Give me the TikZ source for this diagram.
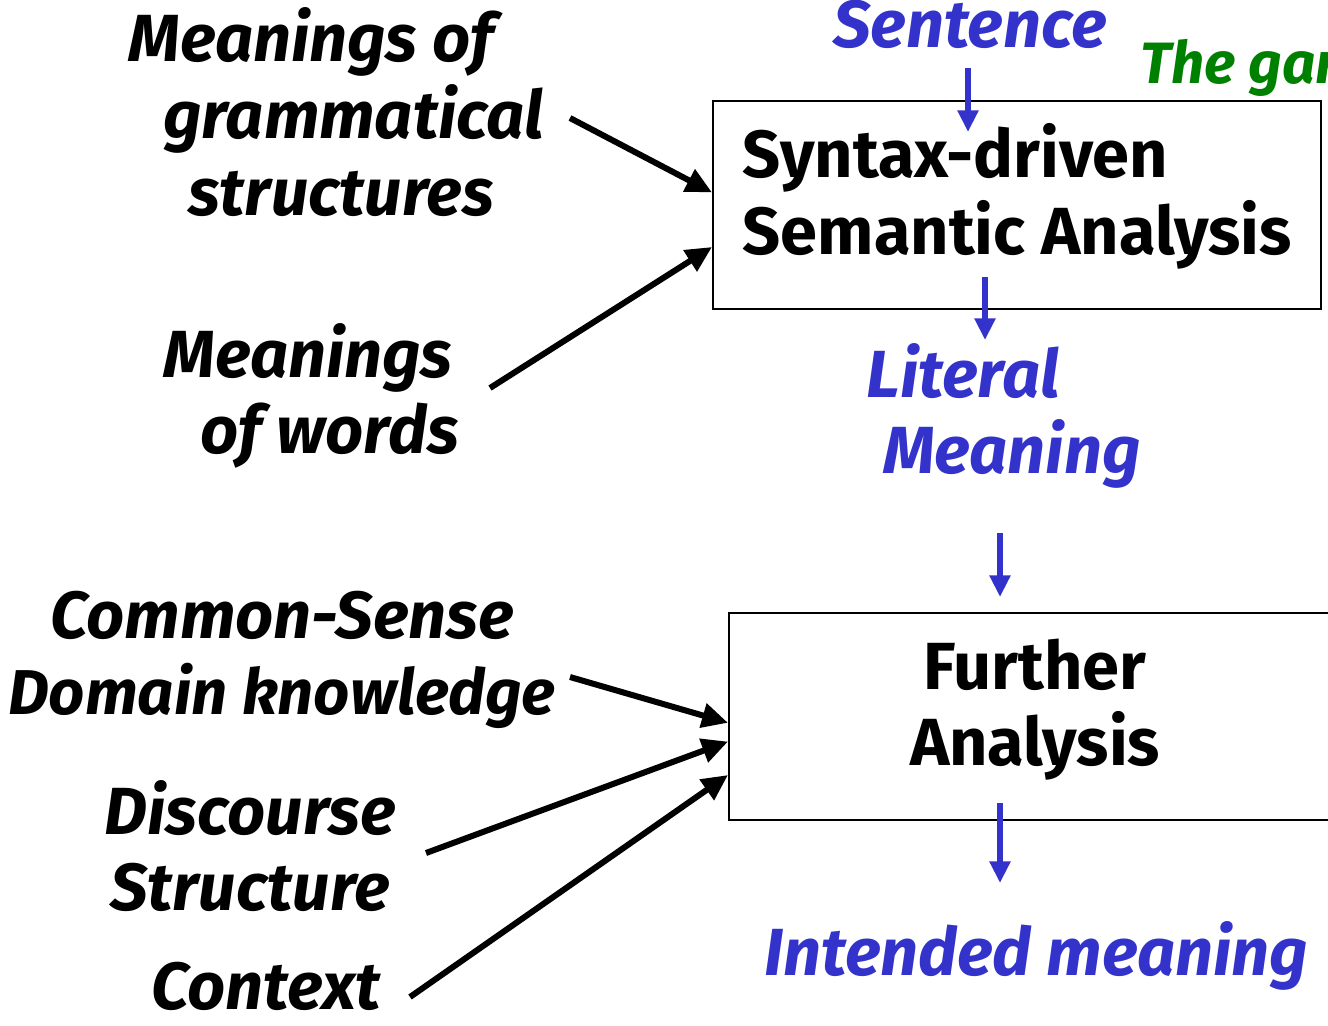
\documentclass[tikz,border=0pt]{standalone}
\usepackage{fontspec}
\setmainfont{Fira Sans}
\usetikzlibrary{arrows.meta,calc}
\definecolor{flowblue}{RGB}{51,51,204}
\definecolor{notegreen}{RGB}{0,128,0}

\begin{document}
\begin{tikzpicture}[x=0.6pt,y=-0.6pt,
  srclabel/.style={font=\fontsize{40}{46}\selectfont\bfseries\itshape, align=center, inner sep=0pt},
  flowlabel/.style={srclabel, text=flowblue},
  stagebox/.style={draw, line width=1.2pt, font=\fontsize{40}{46}\selectfont\bfseries, inner sep=0pt},
  feed/.style={line width=3.6pt, -{Triangle[length=15.6pt,width=14.4pt]}},
  flow/.style={line width=3.6pt, draw=flowblue, -{Triangle[length=13pt,width=12pt,fill=flowblue]}}]
\useasboundingbox (0,0) rectangle (1328,1025);
\clip (0,0) rectangle (1328,1025);

% processing stages
\node[stagebox, minimum width=364.8pt, minimum height=124.8pt, align=left, text depth=19pt] (syn) at (1017,205)
  {Syntax-driven\\Semantic Analysis};
\node[stagebox, minimum width=367.2pt, minimum height=124.2pt, align=center, text depth=17pt] (fur) at (1035,716.5)
  {Further\\Analysis};

% inputs and outputs of the pipeline
\node[flowlabel, font=\fontsize{40}{46}\selectfont\bfseries\itshape] (sent) at (970,24) {Sentence};
\node[flowlabel, align=left, anchor=west] (lit) at (866,416) {Literal\\\hspace*{10pt}Meaning};
\node[flowlabel] (intd) at (1036,956) {Intended meaning};
\node[srclabel, text=notegreen, anchor=base west, font=\fontsize{35}{40}\selectfont\bfseries\itshape] (note) at (1140,83) {The gar};

% knowledge sources
\node[srclabel, align=left, anchor=west] (gram) at (128,112)
  {Meanings of\\\hspace*{21pt}grammatical\\\hspace*{36pt}structures};
\node[srclabel, align=left, anchor=west] (words) at (163,396) {Meanings\\\hspace*{22pt}of words};
\node[srclabel] (cs) at (282,660) {Common-Sense\\{\fontsize{38}{46}\selectfont Domain knowledge}};
\node[srclabel] (disc) at (250,846) {Discourse\\Structure};
\node[srclabel] (ctx) at (266,986) {Context};

% connector end points
\coordinate (g1) at (570,118);
\coordinate (w1) at (490,388);
\coordinate (c1) at (570,677);
\coordinate (d1) at (426,853);
\coordinate (x1) at (410,997);
\coordinate (g2) at ($(syn.north west)!0.44!(syn.south west)$);
\coordinate (w2) at ($(syn.north west)!0.70!(syn.south west)$);
\coordinate (c2) at ($(fur.north west)!0.53!(fur.south west)$);
\coordinate (d2) at ($(fur.north west)!0.62!(fur.south west)$);
\coordinate (x2) at ($(fur.north west)!0.78!(fur.south west)$);

\draw[feed] (g1) -- (g2);
\draw[feed] (w1) -- (w2);
\draw[feed] (c1) -- (c2);
\draw[feed] (d1) -- (d2);
\draw[feed] (x1) -- (x2);

% main flow
\coordinate (s1) at (968,68);   \coordinate (s2) at (968,132);
\coordinate (l1) at (985,277);  \coordinate (l2) at (985,340);
\coordinate (f1) at (1000,533); \coordinate (f2) at (1000,597);
\coordinate (i1) at (1000,803); \coordinate (i2) at (1000,883);
\draw[flow] (s1) -- (s2);
\draw[flow] (l1) -- (l2);
\draw[flow] (f1) -- (f2);
\draw[flow] (i1) -- (i2);
\end{tikzpicture}
\end{document}
